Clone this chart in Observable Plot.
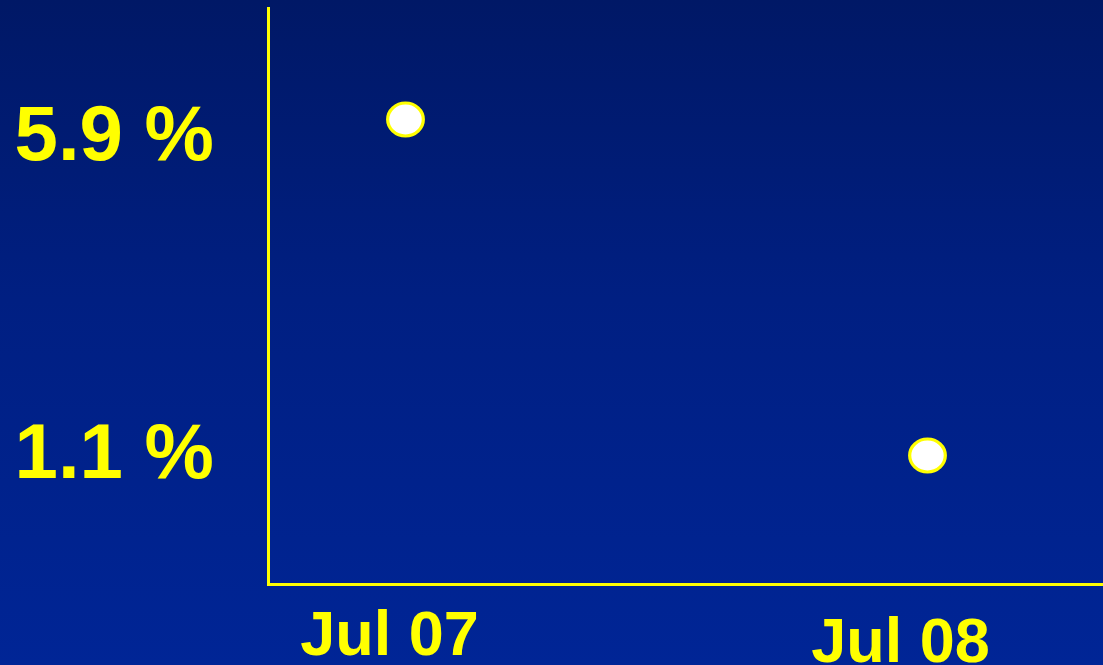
<!DOCTYPE html>
<html>
<head>
<meta charset="utf-8">
<script src="https://cdn.jsdelivr.net/npm/d3@7"></script>
<script src="https://cdn.jsdelivr.net/npm/@observablehq/plot@0.6"></script>
<style>
  html, body { margin: 0; padding: 0; width: 1103px; height: 665px; overflow: hidden; }
  body { background: linear-gradient(to bottom, #001866 0%, #001f82 45%, #002596 100%); }
  #chart svg { display: block; background: transparent; overflow: visible; }
</style>
</head>
<body>
<div id="chart"></div>
<script>
const periods = ["Jul 07", "Jul 08"];
const rates = [5.9, 1.1];
const rateLabels = ["5.9 %", "1.1 %"];

const data = periods.map((p, i) => ({period: p, rate: rates[i], label: rateLabels[i]}));
const labelOf = v => rateLabels[rates.indexOf(v)];

const YELLOW = "#ffff00";
const font = "'Liberation Sans', Arial, sans-serif";

const chart = Plot.plot({
  width: 1103,
  height: 665,
  marginLeft: 268,
  marginRight: 0,
  marginTop: 8,
  marginBottom: 81,
  style: {background: "transparent", fontFamily: font, fontWeight: "bold", color: YELLOW},
  x: {type: "point", domain: periods, padding: 0, insetLeft: 137, insetRight: 176, axis: null},
  y: {domain: [1.1, 5.9], insetTop: 111, insetBottom: 129, axis: null},
  marks: [
    Plot.axisY([rates[0]], {anchor: "left", tickSize: 0, tickPadding: 254, textAnchor: "start",
      tickFormat: labelOf, fontSize: 78, fill: YELLOW, dy: 16, label: null}),
    Plot.axisY([rates[1]], {anchor: "left", tickSize: 0, tickPadding: 254, textAnchor: "start",
      tickFormat: labelOf, fontSize: 78, fill: YELLOW, dy: -2, label: null}),
    Plot.axisX([periods[0]], {anchor: "bottom", tickSize: 0, tickPadding: 0,
      fontSize: 63, fill: YELLOW, dx: -16, dy: 26, label: null}),
    Plot.axisX([periods[1]], {anchor: "bottom", tickSize: 0, tickPadding: 0,
      fontSize: 63, fill: YELLOW, dx: -27, dy: 33, label: null}),
    Plot.frame({anchor: "left", stroke: YELLOW, strokeWidth: 3}),
    Plot.frame({anchor: "bottom", stroke: YELLOW, strokeWidth: 3}),
    Plot.dot(data, {x: "period", y: "rate", r: 16.5, fill: "white", stroke: YELLOW, strokeWidth: 3})
  ]
});

// slightly widen the dots into ellipses, as in the original
d3.select(chart).selectAll("circle").each(function () {
  const c = d3.select(this);
  const cx = +c.attr("cx"), cy = +c.attr("cy");
  if (!isNaN(cx) && !isNaN(cy)) {
    c.attr("transform", `translate(${cx},${cy}) scale(1.08,1) translate(${-cx},${-cy})`);
  }
});

document.getElementById("chart").appendChild(chart);
</script>
</body>
</html>
